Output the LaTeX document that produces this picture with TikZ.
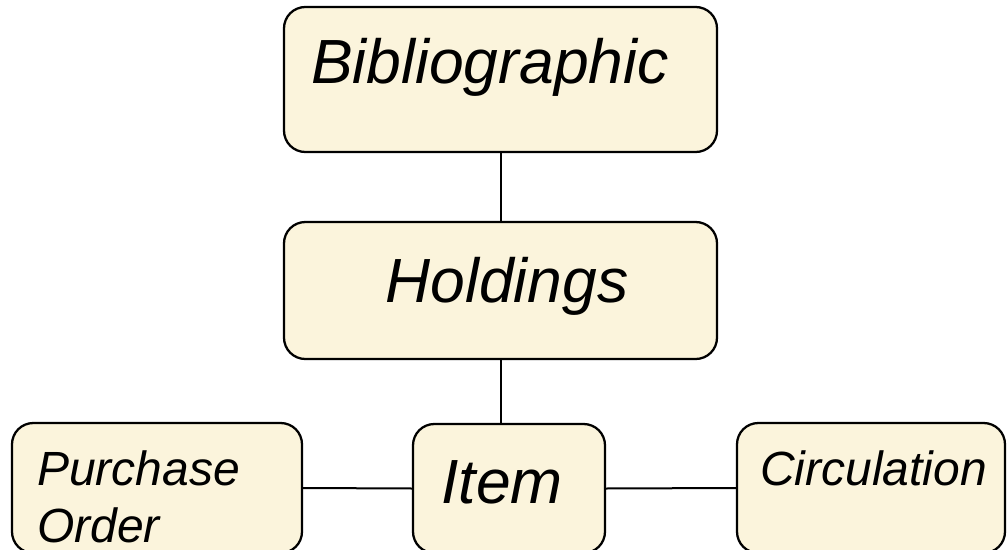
\documentclass[tikz,border=0pt]{standalone}
\usepackage{fontspec}
\setmainfont{Liberation Sans}
\definecolor{boxfill}{HTML}{FBF4DC}
\begin{document}
\begin{tikzpicture}[x=0.75pt,y=-0.75pt,
  box/.style={draw=black, line width=1.7pt, fill=boxfill, rounded corners=16pt, inner sep=0pt},
  big/.style={font=\fontsize{46.8pt}{52pt}\selectfont\itshape, inner sep=0pt},
  small/.style={font=\fontsize{36pt}{42.75pt}\selectfont\itshape, inner sep=0pt},
  link/.style={draw=black, line width=1.5pt}]
\useasboundingbox (0,0) rectangle (1008,550);
\clip (0,0) rectangle (1008,550);
\fill[white] (0,0) rectangle (1008,550);
% boxes
\node[box, minimum width=324.75pt, minimum height=108.75pt] (bib) at (500.5,79.5) {};
\node[box, minimum width=324.75pt, minimum height=102.75pt] (hold) at (500.5,290.5) {};
\node[box, minimum width=144pt, minimum height=96.75pt] (item) at (509,488.5) {};
\node[box, minimum width=217.5pt, minimum height=97.5pt] (po) at (157,488) {};
\node[box, minimum width=201pt, minimum height=97.5pt] (circ) at (871,488) {};
% connectors
\draw[link] (bib.south) -- (hold.north);
\draw[link] (hold.south) -- (hold.south |- item.north);
\draw[link] (po.east) -- (item.west);
\draw[link] (item.east) -- (circ.west);
% labels
\node[big, anchor=base] (bibt) at (490,83) {Bibliographic};
\node[big, anchor=base] (holdt) at (507,302) {Holdings};
\node[big, anchor=base] (itemt) at (502,503) {Item};
\node[small, anchor=north west, align=left] (pot) at (37,450) {Purchase\\Order};
\node[small, anchor=base west] (circt) at (760,485) {Circulation};
\end{tikzpicture}
\end{document}
